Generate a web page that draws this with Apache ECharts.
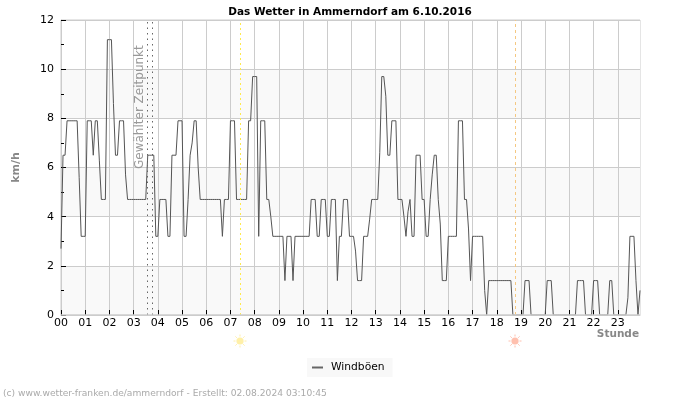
<!DOCTYPE html>
<html>
<head>
<meta charset="utf-8">
<style>html,body{margin:0;padding:0;background:#fff}#c{width:700px;height:400px}</style>
<script src="https://cdn.jsdelivr.net/npm/echarts@6/dist/echarts.min.js"></script>
</head>
<body>
<div id="c"></div>
<script>
const hourLabels = ['00','01','02','03','04','05','06','07','08','09','10','11','12','13','14','15','16','17','18','19','20','21','22','23'];
const minuteLabels = ['00','05','10','15','20','25','30','35','40','45','50','55'];
// gust readings, one row per hour, one value per 5 minutes
const windboeen = [
 2.7,6.5,6.5,7.9,7.9,7.9,7.9,7.9,7.9,5.6,3.2,3.2,
 3.2,7.9,7.9,7.9,6.5,7.9,7.9,6.3,4.7,4.7,4.7,11.2,
 11.2,11.2,8.6,6.5,6.5,7.9,7.9,7.9,5.7,4.7,4.7,4.7,
 4.7,4.7,4.7,4.7,4.7,4.7,4.7,6.5,6.5,6.5,6.5,3.2,
 3.2,4.7,4.7,4.7,4.7,3.2,3.2,6.5,6.5,6.5,7.9,7.9,
 7.9,3.2,3.2,4.7,6.5,7.0,7.9,7.9,6.0,4.7,4.7,4.7,
 4.7,4.7,4.7,4.7,4.7,4.7,4.7,4.7,3.2,4.7,4.7,4.7,
 7.9,7.9,7.9,4.7,4.7,4.7,4.7,4.7,4.7,7.9,7.9,9.7,
 9.7,9.7,3.2,7.9,7.9,7.9,4.7,4.7,4.0,3.2,3.2,3.2,
 3.2,3.2,3.2,1.4,3.2,3.2,3.2,1.4,3.2,3.2,3.2,3.2,
 3.2,3.2,3.2,3.2,4.7,4.7,4.7,3.2,3.2,4.7,4.7,4.7,
 3.2,3.2,4.7,4.7,4.7,1.4,3.2,3.2,4.7,4.7,4.7,3.2,
 3.2,3.2,2.6,1.4,1.4,1.4,3.2,3.2,3.2,3.9,4.7,4.7,
 4.7,4.7,6.6,9.7,9.7,8.9,6.5,6.5,7.9,7.9,7.9,4.7,
 4.7,4.7,4.0,3.2,4.2,4.7,3.2,3.2,6.5,6.5,6.5,4.7,
 4.7,3.2,3.2,4.7,5.7,6.5,6.5,4.7,3.7,1.4,1.4,1.4,
 3.2,3.2,3.2,3.2,3.2,7.9,7.9,7.9,4.7,4.7,3.5,1.4,
 3.2,3.2,3.2,3.2,3.2,3.2,1.0,0,1.4,1.4,1.4,1.4,
 1.4,1.4,1.4,1.4,1.4,1.4,1.4,1.4,0,0,0,0,
 0,0,1.4,1.4,1.4,0,0,0,0,0,0,0,
 0,1.4,1.4,1.4,0,0,0,0,0,0,0,0,
 0,0,0,0,1.4,1.4,1.4,1.4,0,0,0,0,
 1.4,1.4,1.4,0,0,0,0,0,1.4,1.4,0,0,
 0,0,0,0,0,0.7,3.2,3.2,3.2,1.4,0,1.0
];
const categories = hourLabels.flatMap(h => minuteLabels.map(m => h + ':' + m));
const chartTitle = 'Das Wetter in Ammerndorf am 6.10.2016';
const footerText = '(c) www.wetter-franken.de/ammerndorf - Erstellt: 02.08.2024 03:10:45';
const selectedTimes = ['03:35', '03:45'];
const sunrise = '07:25';
const sunset = '18:45';

const font = 'DejaVu Sans';
function sun(cx, cy, color) {
  const parts = [];
  for (let a = 0; a < 8; a++) {
    const t = a * Math.PI / 4;
    parts.push({type: 'line', z: 100, shape: {x1: cx + 4.5 * Math.cos(t), y1: cy + 4.5 * Math.sin(t), x2: cx + 6.5 * Math.cos(t), y2: cy + 6.5 * Math.sin(t)},
      style: {stroke: color, lineWidth: 1}, silent: true});
  }
  parts.push({type: 'circle', z: 100, shape: {cx, cy, r: 3.6}, style: {fill: color}, silent: true});
  return parts;
}
const chart = echarts.init(document.getElementById('c'), null, {renderer: 'canvas'});
const vLine = (t, color, type) => ({xAxis: t, lineStyle: {color, type, width: 1}});
chart.setOption({
  animation: false,
  backgroundColor: '#fff',
  textStyle: {fontFamily: font},
  title: {text: chartTitle, left: 'center', top: 2,
    textStyle: {fontFamily: font, fontSize: 10.5, fontWeight: 'bold', color: '#000'}},
  grid: {left: 61, right: 60, top: 20, bottom: 85, show: true, borderColor: '#ccc', borderWidth: 1, backgroundColor: 'transparent'},
  legend: {left: 307, top: 358, padding: [4, 8, 4, 5], itemWidth: 11, itemHeight: 2, itemGap: 0,
    backgroundColor: '#f8f8f8', icon: 'rect',
    textStyle: {fontFamily: font, fontSize: 10.7, color: '#000', padding: [0, 0, 0, 3]},
    data: ['Windböen']},
  xAxis: {
    type: 'category', data: categories, boundaryGap: false,
    name: 'Stunde', nameLocation: 'end', nameGap: 0,
    nameTextStyle: {fontFamily: font, fontSize: 10.5, fontWeight: 'bold', color: '#888', align: 'right', verticalAlign: 'top', padding: [14, 1, 0, 0]},
    axisLine: {lineStyle: {color: '#ccc'}},
    axisTick: {show: true, inside: true, length: 5, interval: 11, alignWithLabel: true, lineStyle: {color: '#000'}},
    axisLabel: {interval: 11, margin: 3, fontSize: 11, color: '#000', fontFamily: font, formatter: v => v.slice(0, 2)},
    splitLine: {show: true, interval: 11, lineStyle: {color: '#ccc', width: 1}}
  },
  yAxis: {
    type: 'value', min: 0, max: 12, interval: 2,
    name: 'km/h', nameLocation: 'middle', nameGap: 39, nameRotate: 90,
    nameTextStyle: {fontFamily: font, fontSize: 11, fontWeight: 'bold', color: '#888'},
    axisLine: {show: true, lineStyle: {color: '#ccc'}},
    axisTick: {show: true, inside: true, length: 5, lineStyle: {color: '#000'}},
    minorTick: {show: true, splitNumber: 2, length: 3, lineStyle: {color: '#000'}},
    axisLabel: {margin: 7, fontSize: 11, color: '#000', fontFamily: font},
    splitLine: {show: true, lineStyle: {color: '#ccc', width: 1}},
    splitArea: {show: true, areaStyle: {color: ['#f9f9f9', '#ffffff']}}
  },
  series: [{
    name: 'Windböen', type: 'line', data: windboeen, showSymbol: false, symbol: 'none',
    lineStyle: {color: '#555', width: 1}, itemStyle: {color: '#666'},
    markLine: {
      silent: true, symbol: 'none', label: {show: false}, z: 10, animation: false,
      data: [
        vLine(selectedTimes[0], '#666', [1.5, 4]),
        vLine(selectedTimes[1], '#666', [1.5, 4]),
        vLine(sunrise, '#ffe94d', [2, 3]),
        vLine(sunset, '#f5c882', [3, 3]),
        {yAxis: 0, lineStyle: {color: '#ccc', type: 'solid', width: 1.5}}
      ]
    }
  }],
  graphic: [
    {type: 'text', z: 100, rotation: Math.PI / 2, x: 134, y: 169, style: {text: 'Gewählter Zeitpunkt', font: '12px "DejaVu Sans"', fill: '#999'}, silent: true},
    {type: 'text', z: 100, left: 3, top: 389, style: {text: footerText, font: '9.15px "DejaVu Sans"', fill: '#aaa'}, silent: true},
    ...sun(240, 341, '#fff0a8'),
    ...sun(515, 341, '#ffc0ae')
  ]
});
</script>
</body>
</html>
